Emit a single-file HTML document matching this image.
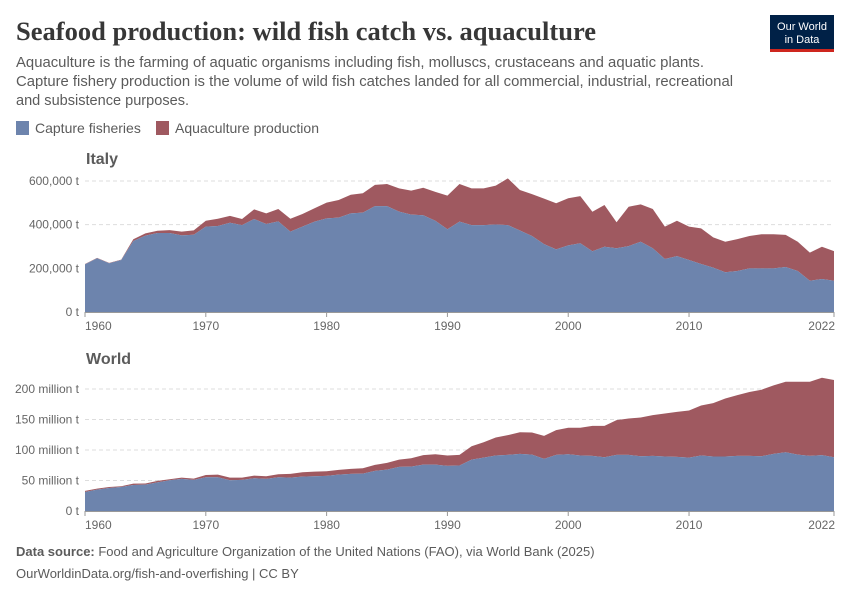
<!DOCTYPE html>
<html><head><meta charset="utf-8"><style>
html,body{margin:0;padding:0;background:#fff;}
svg{display:block;font-family:"Liberation Sans",sans-serif;}
</style></head><body>
<svg id="root" width="850" height="600" viewBox="0 0 850 600">
<text x="16" y="40" font-family="Liberation Serif,serif" font-weight="bold" font-size="26" fill="#373737" textLength="580" lengthAdjust="spacingAndGlyphs">Seafood production: wild fish catch vs. aquaculture</text>
<g font-size="14.5" fill="#5b5b5b">
<text x="16" y="67" textLength="688" lengthAdjust="spacingAndGlyphs">Aquaculture is the farming of aquatic organisms including fish, molluscs, crustaceans and aquatic plants.</text>
<text x="16" y="86" textLength="717" lengthAdjust="spacingAndGlyphs">Capture fishery production is the volume of wild fish catches landed for all commercial, industrial, recreational</text>
<text x="16" y="105" textLength="173" lengthAdjust="spacingAndGlyphs">and subsistence purposes.</text>
</g>
<g>
<rect x="770" y="15" width="64" height="34" fill="#002147"/>
<rect x="770" y="49" width="64" height="3" fill="#ce261e"/>
<text x="802" y="30" font-size="11" fill="#fff" text-anchor="middle">Our World</text>
<text x="802" y="43" font-size="11" fill="#fff" text-anchor="middle">in Data</text>
</g>
<g>
<rect x="16" y="121" width="13" height="14" fill="#6d84ad"/>
<text x="35" y="133" font-size="14" fill="#5b5b5b">Capture fisheries</text>
</g>
<g>
<rect x="156" y="121" width="13" height="14" fill="#9f5960"/>
<text x="175" y="133" font-size="14" fill="#5b5b5b">Aquaculture production</text>
</g>
<g id="italy"></g>
<g id="world"></g>
<text x="16" y="560" font-size="13" fill="#5b5b5b" transform="translate(0,-4)"><tspan font-weight="bold">Data source:</tspan> Food and Agriculture Organization of the United Nations (FAO), via World Bank (2025)</text>
<text x="16" y="582" font-size="13" fill="#5b5b5b" transform="translate(0,-4)">OurWorldinData.org/fish-and-overfishing | CC BY</text>
</svg>
<script>
const years = [];
for (let y = 1960; y <= 2022; y++) years.push(y);
const italyCapture = [218,246,223,238,325,350,362,362,351,354,391,394,409,398,426,403,415,368,391,414,429,432,452,455,485,485,460,446,443,418,379,414,398,398,401,398,373,348,311,287,305,315,278,299,292,302,322,292,243,256,238,220,203,182,188,200,200,200,206,188,143,151,143];
const italyTotal = [220,248,225,240,333,360,372,375,368,374,418,427,440,426,470,452,472,427,449,475,501,513,537,544,582,586,566,556,569,550,533,586,566,566,579,612,559,540,519,498,521,531,459,490,411,482,493,472,391,418,391,383,342,322,334,348,356,356,353,322,272,299,279];
const worldCapture = [31.2,35,37.8,39.4,42.7,43.3,47,50.4,52.6,51,55.3,55.3,50.4,51,53.7,52.6,55.3,54.8,56.4,57,57.5,59.7,60.8,61.3,65.7,67.9,72.3,72.8,76.1,76.1,73.9,74.5,84.3,87.6,90.9,92,93.6,92.5,85.4,92,93.1,90.9,90.4,88.2,92,92,89.8,90.4,89.3,88.7,87.6,90.9,89.3,89.3,90.4,90.4,89.8,93.6,96.4,92.5,90.4,91.5,88.2];
const worldTotal = [32.9,36.7,39.4,40.5,44.9,45,49.3,52,54.8,53,59,59.7,54.8,54.8,58,57,60.2,60.8,63.5,64.6,65.2,67.4,69,70.1,75.6,78.9,84.3,86.5,91.5,93.1,90.9,92,106.2,112.8,120.5,124.3,129.2,128.7,123.2,132.5,136.4,136.4,139.6,139.6,149,151.7,153.3,157.2,159.9,162.6,164.8,173,176.9,184.5,190,195,198.8,205.9,211.9,211.9,211.9,218.5,214.7];
const italyTicks = [0,200000,400000,600000];
const italyTickLabels = ["0 t","200,000 t","400,000 t","600,000 t"];
const worldTicks = [0,50,100,150,200];
const worldTickLabels = ["0 t","50 million t","100 million t","150 million t","200 million t"];
const xTicks = [1960,1970,1980,1990,2000,2010,2022];

const NS = "http://www.w3.org/2000/svg";
function mk(tag, attrs, parent) {
  const e = document.createElementNS(NS, tag);
  for (const k in attrs) e.setAttribute(k, attrs[k]);
  parent.appendChild(e);
  return e;
}
const x0 = 85, x1 = 834;
function xs(yr) { return x0 + (yr - 1960) / (2022 - 1960) * (x1 - x0); }

function panel(g, name, labelY, yTop, yBase, maxV, cap, tot, ticks, tickLabels) {
  const ys = v => yBase - v / maxV * (yBase - yTop);
  const t = mk('text', {x: 86, y: labelY, 'font-size': 16, 'font-weight': 'bold', fill: '#5b5b5b'}, g);
  t.textContent = name;
  
  
  ticks.forEach((v, i) => {
    const yy = ys(v);
    if (i > 0) {
      const l = mk('line', {x1: x0, x2: x1, y1: yy, y2: yy, stroke: '#ddd', 'stroke-dasharray': '4,3'}, g);
      
      
    }
    const tx = mk('text', {x: 79, y: yy + 4, 'font-size': 12, fill: '#666', 'text-anchor': 'end'}, g);
    tx.textContent = tickLabels[i];
    
    
  });
  let pt = '', pc = '';
  years.forEach((yr, i) => { pt += xs(yr) + ',' + ys(tot[i]) + ' '; pc += xs(yr) + ',' + ys(cap[i]) + ' '; });
  const capRev = years.map((yr, i) => xs(yr) + ',' + ys(cap[i])).reverse().join(' ');
  const aq = mk('polygon', {points: pt + capRev, fill: '#9f5960'}, g);
  
  
  const cp = mk('polygon', {points: xs(1960) + ',' + yBase + ' ' + pc + xs(2022) + ',' + yBase, fill: '#6d84ad'}, g);
  
  
  const ax = mk('line', {x1: x0, x2: x1, y1: yBase + 0.5, y2: yBase + 0.5, stroke: '#999'}, g);
  
  
  xTicks.forEach(yr => {
    const X = xs(yr);
    const tk = mk('line', {x1: X, x2: X, y1: yBase, y2: yBase + 5, stroke: '#999'}, g);
    
    
    const anchor = yr === 1960 ? 'start' : (yr === 2022 ? 'end' : 'middle');
    const lx = yr === 2022 ? X + 1 : X;
    const tl = mk('text', {x: lx, y: yBase + 18, 'font-size': 12, fill: '#666', 'text-anchor': anchor}, g);
    tl.textContent = yr;
    
    
  });
}
panel(document.getElementById('italy'), 'Italy', 164, 181, 312, 600, italyCapture, italyTotal, italyTicks.map(v => v / 1000), italyTickLabels);
panel(document.getElementById('world'), 'World', 364, 389, 511, 200, worldCapture, worldTotal, worldTicks, worldTickLabels);
</script>
</body></html>
